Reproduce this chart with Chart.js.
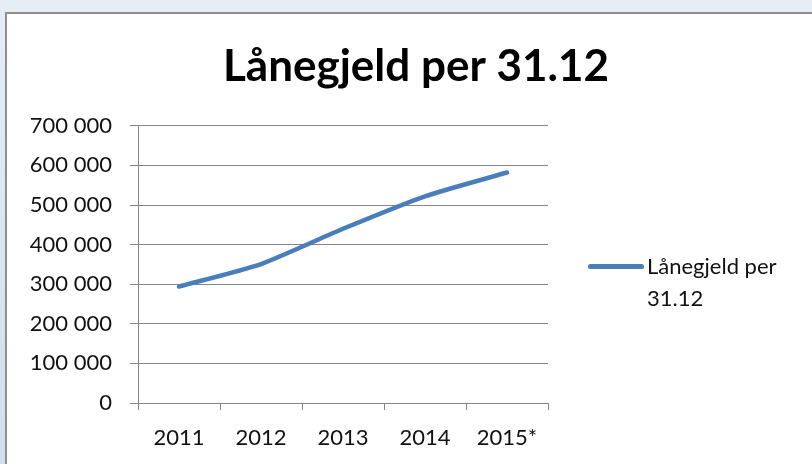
<!DOCTYPE html>
<html>
<head>
<meta charset="utf-8">
<script src="https://cdn.jsdelivr.net/npm/chart.js@4.4.1/dist/chart.umd.min.js"></script>
<style>
  html, body { margin: 0; padding: 0; }
  body {
    width: 812px; height: 464px; overflow: hidden; position: relative;
    background: linear-gradient(#e6edf5, #d3deeb);
    font-family: Lato, "Open Sans", sans-serif;
  }
  #frame {
    position: absolute; left: 5px; top: 12px; width: 820px; height: 470px;
    background: #fff; border: 2px solid #8e8e8e; box-sizing: border-box;
  }
  #wrap { position: absolute; left: 0; top: 0; width: 812px; height: 464px; }
  #legend {
    position: absolute; left: 588px; top: 250px; font-size: 22px; color: #111;
  }
  #legend .swatch {
    position: absolute; left: 0; top: 14px; width: 56px; height: 5px;
    background: #4a7ebb; border-radius: 3px;
  }
  #legend .txt { position: absolute; left: 59px; top: 0; line-height: 32px; white-space: nowrap; }
</style>
</head>
<body>
<div id="frame"></div>
<div id="wrap"><canvas id="myChart" width="812" height="464"></canvas></div>
<div id="legend"><div class="swatch"></div><div class="txt">Lånegjeld per<br>31.12</div></div>
<script>
// chart data
var years = ["2011", "2012", "2013", "2014", "2015*"];
var gjeld = [294000, 351000, 440000, 522000, 582000];
var seriesName = "Lånegjeld per 31.12";
var titleText = "Lånegjeld per 31.12";

function spaced(v) {
  return String(v).replace(/\B(?=(\d{3})+(?!\d))/g, " ");
}

var ctx = document.getElementById("myChart").getContext("2d");
var chart = new Chart(ctx, {
  type: "line",
  data: {
    labels: years,
    datasets: [{
      label: seriesName,
      data: gjeld,
      borderColor: "#4a7ebb",
      borderWidth: 4.5,
      borderCapStyle: "round",
      borderJoinStyle: "round",
      pointRadius: 0,
      tension: 0.2,
      fill: false
    }]
  },
  options: {
    responsive: false,
    animation: false,
    layout: { padding: { left: 20, right: 0, top: 0, bottom: 0 } },
    plugins: {
      legend: { display: false },
      tooltip: { enabled: false },
      title: {
        display: true,
        text: titleText,
        color: "#000",
        font: { family: "Lato", size: 44, weight: "bold", lineHeight: 1.2 },
        padding: { top: 40, bottom: 33 }
      }
    },
    scales: {
      x: {
        offset: true,
        grid: { offset: true, drawOnChartArea: false, color: "#868686", tickLength: 7 },
        border: { color: "#868686" },
        ticks: { color: "#111", font: { family: "Lato", size: 22 }, padding: 15, maxRotation: 0 },
        afterFit: function(s) { s.height = 61; }
      },
      y: {
        min: 0,
        max: 700000,
        grid: { color: "#868686", tickLength: 8 },
        border: { color: "#868686" },
        ticks: {
          stepSize: 100000,
          color: "#111",
          font: { family: "Lato", size: 22 },
          padding: 18,
          callback: function(v) { return spaced(v); }
        },
        afterFit: function(s) { s.width = 118; }
      },
      // empty axis on the right keeps room for the legend
      side: {
        position: "right",
        grid: { display: false },
        border: { display: false },
        ticks: { display: false },
        afterFit: function(s) { s.width = 264; }
      }
    }
  }
});
</script>
</body>
</html>
